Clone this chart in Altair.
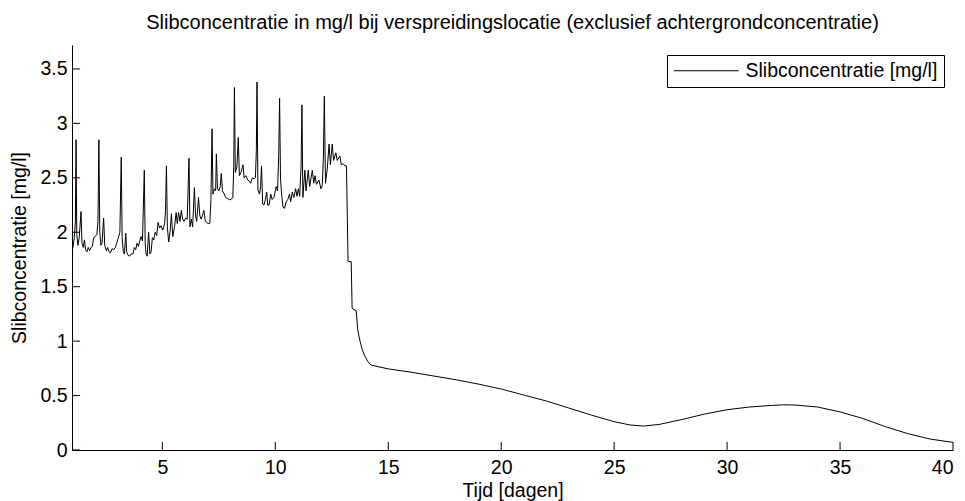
import altair as alt
import pandas as pd

# Time (days) and concentration (mg/l)
days = [
    1.00, 1.05, 1.10, 1.15, 1.18, 1.21, 1.26, 1.32, 1.40, 1.44, 1.50, 1.55, 1.60, 1.66, 1.72, 1.78, 1.84, 1.90, 1.96,
    2.03, 2.10, 2.15, 2.19, 2.23, 2.28, 2.33, 2.40, 2.45, 2.52, 2.58, 2.64, 2.70, 2.78, 2.85, 2.92, 2.98,
    3.05, 3.12, 3.18, 3.22, 3.27, 3.32, 3.38, 3.42, 3.48, 3.55, 3.62, 3.70, 3.76, 3.82, 3.88, 3.94,
    4.00, 4.06, 4.12, 4.20, 4.24, 4.28, 4.33, 4.39, 4.45, 4.50, 4.56, 4.62, 4.68, 4.75, 4.81, 4.88, 4.94,
    5.02, 5.10, 5.14, 5.18, 5.22, 5.28, 5.34, 5.40, 5.46, 5.54, 5.61, 5.66, 5.72, 5.78, 5.84, 5.90, 5.96,
    6.03, 6.10, 6.18, 6.22, 6.28, 6.34, 6.42, 6.47, 6.52, 6.60, 6.66, 6.72, 6.78, 6.84, 6.90, 6.96,
    7.03, 7.10, 7.15, 7.20, 7.24, 7.30, 7.36, 7.39, 7.44, 7.50, 7.56, 7.61, 7.66, 7.72, 7.80, 7.88, 7.96,
    8.04, 8.12, 8.16, 8.19, 8.23, 8.30, 8.36, 8.41, 8.48, 8.57, 8.62, 8.70, 8.78, 8.85, 8.91, 8.98,
    9.06, 9.12, 9.16, 9.19, 9.23, 9.30, 9.35, 9.39, 9.44, 9.50, 9.56, 9.62, 9.66, 9.72, 9.80, 9.86, 9.94,
    10.04, 10.10, 10.15, 10.19, 10.23, 10.28, 10.34, 10.41, 10.48, 10.55, 10.63, 10.68, 10.75, 10.82, 10.90, 10.96,
    11.02, 11.08, 11.14, 11.18, 11.22, 11.31, 11.36, 11.46, 11.52, 11.64, 11.70, 11.76, 11.82, 11.93,
    12.02, 12.08, 12.13, 12.17, 12.22, 12.30, 12.38, 12.44, 12.52, 12.58, 12.68, 12.74, 12.86, 12.92,
    13.00, 13.08, 13.15, 13.22, 13.36, 13.40, 13.58, 13.65, 13.75, 13.85, 13.95, 14.10, 14.25, 14.45,
    15.0, 16.0, 17.0, 18.0, 19.0, 20.0, 21.0, 22.0, 23.0, 24.0, 25.0, 25.7, 26.3, 27.0, 28.0, 29.0,
    30.0, 31.0, 32.0, 32.5, 33.0, 34.0, 35.0, 36.0, 37.0, 38.0, 39.0, 40.0,
]
concentration = [
    1.83, 1.87, 1.95, 2.10, 2.85, 1.98, 1.88, 1.95, 2.19, 1.90, 1.86, 1.93, 1.84, 1.82, 1.86, 1.83, 1.86, 1.87, 1.95,
    1.96, 1.98, 2.10, 2.85, 2.00, 1.88, 1.90, 2.13, 1.88, 1.83, 1.86, 1.82, 1.81, 1.85, 1.84, 1.86, 1.90,
    1.95, 2.00, 2.69, 1.95, 1.82, 1.80, 1.99, 1.82, 1.79, 1.78, 1.80, 1.80, 1.86, 1.84, 1.90, 1.87,
    1.92, 1.96, 1.92, 2.57, 1.90, 1.80, 1.78, 2.00, 1.80, 1.82, 1.95, 1.93, 2.00, 1.97, 2.09, 2.04, 2.06,
    2.02, 2.08, 2.20, 2.61, 2.05, 1.91, 2.00, 2.17, 1.96, 2.05, 2.18, 2.08, 2.18, 2.10, 2.20, 2.12, 2.10,
    2.13, 2.12, 2.68, 2.05, 2.12, 2.05, 2.41, 2.15, 2.10, 2.32, 2.15, 2.12, 2.16, 2.20, 2.10, 2.09,
    2.08, 2.08, 2.30, 2.95, 2.35, 2.40, 2.38, 2.72, 2.40, 2.38, 2.42, 2.54, 2.38, 2.36, 2.32, 2.31, 2.30,
    2.30, 2.32, 2.60, 3.33, 2.55, 2.60, 2.87, 2.52, 2.55, 2.62, 2.50, 2.52, 2.48, 2.47, 2.45, 2.50,
    2.49, 2.50, 2.75, 3.38, 2.39, 2.35, 2.42, 2.61, 2.26, 2.25, 2.30, 2.37, 2.25, 2.25, 2.35, 2.30, 2.32,
    2.42, 2.38, 2.70, 3.23, 2.49, 2.35, 2.23, 2.22, 2.28, 2.30, 2.35, 2.28, 2.37, 2.32, 2.40, 2.33,
    2.40, 2.33, 2.60, 3.17, 2.32, 2.57, 2.38, 2.57, 2.42, 2.57, 2.45, 2.52, 2.44, 2.48,
    2.40, 2.43, 2.70, 3.25, 2.45, 2.58, 2.81, 2.62, 2.81, 2.66, 2.73, 2.66, 2.70, 2.62,
    2.63, 2.61, 2.61, 1.73, 1.73, 1.30, 1.28, 1.10, 1.00, 0.92, 0.87, 0.81, 0.78, 0.77,
    0.745, 0.715, 0.68, 0.645, 0.605, 0.56, 0.505, 0.45, 0.385, 0.32, 0.26, 0.23, 0.22, 0.235, 0.28, 0.33,
    0.37, 0.395, 0.41, 0.415, 0.413, 0.395, 0.35, 0.29, 0.215, 0.15, 0.10, 0.07,
]
series_name = "Slibconcentratie [mg/l]"
x_ticks = [5, 10, 15, 20, 25, 30, 35, 40]
y_ticks = [0, 0.5, 1, 1.5, 2, 2.5, 3, 3.5]

W, H = 881, 405
FONT = "Liberation Sans"
FS = 19.5

df = pd.DataFrame({"t": days, "c": concentration, "s": [series_name] * len(days)})
xt = pd.DataFrame({"v": x_ticks})
yt = pd.DataFrame({"v": y_ticks})

xscale = alt.Scale(domain=[1, 40], nice=False, zero=False)
yscale = alt.Scale(domain=[0, 3.72], nice=False, zero=False)

line = alt.Chart(df).mark_line(strokeWidth=1, clip=True).encode(
    x=alt.X("t:Q", scale=xscale, title="Tijd [dagen]",
            axis=alt.Axis(values=x_ticks, format="d", ticks=False, tickSize=0, grid=False,
                          labelPadding=8, titlePadding=5,
                          labelFontSize=FS, titleFontSize=FS, labelFont=FONT, titleFont=FONT,
                          titleFontWeight="normal", labelColor="black", titleColor="black",
                          domainColor="black")),
    y=alt.Y("c:Q", scale=yscale, title="Slibconcentratie [mg/l]",
            axis=alt.Axis(values=y_ticks, format="~g", ticks=False, tickSize=0, grid=False,
                          labelPadding=5, titlePadding=10,
                          labelFontSize=FS, titleFontSize=FS, labelFont=FONT, titleFont=FONT,
                          titleFontWeight="normal", labelColor="black", titleColor="black",
                          domainColor="black")),
    color=alt.Color("s:N", scale=alt.Scale(range=["black"]),
                    legend=alt.Legend(title=None, orient="none", legendX=595, legendY=10,
                                      symbolType="M-1.8,0H11.2", symbolSize=100,
                                      symbolStrokeWidth=1, labelOffset=53, labelLimit=0,
                                      labelFontSize=FS, labelFont=FONT, labelColor="black",
                                      padding=6, strokeColor="black", fillColor="white")),
)

xtick_rules = alt.Chart(xt).mark_rule(color="black", strokeWidth=1).encode(
    x=alt.X("v:Q", scale=xscale), y=alt.value(H), y2=alt.value(H - 8)
)
ytick_rules = alt.Chart(yt).mark_rule(color="black", strokeWidth=1).encode(
    y=alt.Y("v:Q", scale=yscale), x=alt.value(0), x2=alt.value(8)
)

chart = alt.layer(line, xtick_rules, ytick_rules).properties(
    width=W, height=H,
    background="white",
    title=alt.TitleParams(
        "Slibconcentratie in mg/l bij verspreidingslocatie (exclusief achtergrondconcentratie)",
        font=FONT, fontSize=20, fontWeight="normal", color="black", anchor="middle",
        frame="group", offset=12),
    autosize=alt.AutoSizeParams(type="none"),
    padding={"left": 64, "top": 37, "right": 4, "bottom": 51},
).configure_view(stroke=None)

chart.save("out.html", embed_options={"renderer": "svg", "actions": False})
